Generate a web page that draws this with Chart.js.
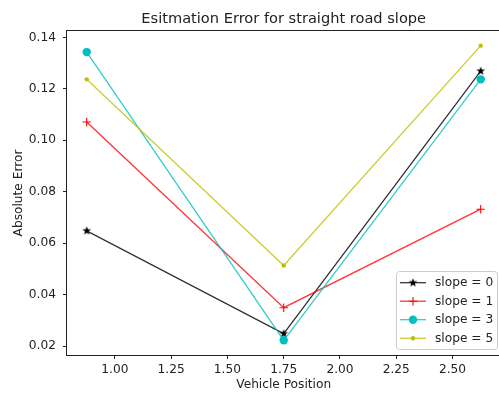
<!DOCTYPE html>
<html>
<head>
<meta charset="utf-8">
<script src="https://cdn.jsdelivr.net/npm/chart.js@4/dist/chart.umd.min.js"></script>
<style>
  html, body { margin: 0; padding: 0; background: #fff; overflow: hidden; }
  #wrap { width: 506px; height: 394px; }
</style>
</head>
<body>
<div id="wrap"><canvas id="errChart" width="506" height="394"></canvas></div>
<script>
// data
const X_POS = [0.875, 1.75, 2.625];
const SLOPE_0 = [0.0648, 0.0248, 0.1269];
const SLOPE_1 = [0.1071, 0.0349, 0.0732];
const SLOPE_3 = [0.1343, 0.0222, 0.1237];
const SLOPE_5 = [0.1237, 0.0513, 0.1368];
const SERIES_LABELS = ["slope = 0", "slope = 1", "slope = 3", "slope = 5"];
const X_TICKS = [1.00, 1.25, 1.50, 1.75, 2.00, 2.25, 2.50];
const Y_TICKS = [0.02, 0.04, 0.06, 0.08, 0.10, 0.12, 0.14];

const FONT = "'DejaVu Sans', sans-serif";
const TXT = '#222';
const FS = 12.2;

// filled five point star, like matplotlib's '*'
function makeStar(r, color) {
  const c = document.createElement('canvas');
  const s = Math.ceil(r * 2 + 2);
  c.width = s; c.height = s;
  const g = c.getContext('2d');
  g.fillStyle = color;
  g.beginPath();
  for (let i = 0; i < 10; i++) {
    const rad = i % 2 === 0 ? r : r * 0.42;
    const a = -Math.PI / 2 + i * Math.PI / 5;
    const px = s / 2 + rad * Math.cos(a);
    const py = s / 2 + rad * Math.sin(a);
    if (i === 0) g.moveTo(px, py); else g.lineTo(px, py);
  }
  g.closePath();
  g.fill();
  return c;
}

const styles = [
  { line: 'rgba(0,0,0,0.8)', mark: '#000000', point: makeStar(4.6, '#000'), radius: 4.6, bw: 1 },
  { line: 'rgba(255,0,0,0.8)', mark: '#ff0000', point: 'cross', radius: 4.2, bw: 1.1 },
  { line: 'rgba(0,191,191,0.8)', mark: '#00bfbf', point: 'circle', radius: 4.2, bw: 0 },
  { line: 'rgba(191,191,0,0.8)', mark: '#bfbf00', point: 'circle', radius: 2.2, bw: 0 }
];
const values = [SLOPE_0, SLOPE_1, SLOPE_3, SLOPE_5];

const datasets = values.map((vals, i) => ({
  label: SERIES_LABELS[i],
  data: X_POS.map((x, j) => ({ x: x, y: vals[j] })),
  borderColor: styles[i].line,
  borderWidth: 1.3,
  pointStyle: styles[i].point,
  pointRadius: styles[i].radius,
  pointBackgroundColor: styles[i].mark,
  pointBorderColor: styles[i].mark,
  pointBorderWidth: styles[i].bw,
  tension: 0,
  fill: false,
  order: values.length - 1 - i
}));

// title, frame and legend drawn by hand
const decor = {
  id: 'decor',
  afterDatasetsDraw(chart) {
    const ctx = chart.ctx;
    const a = chart.chartArea;
    ctx.save();

    ctx.strokeStyle = '#222';
    ctx.lineWidth = 1;
    ctx.strokeRect(Math.round(a.left) - 0.5, Math.round(a.top) - 0.5,
      Math.round(a.right - a.left) + 1, Math.round(a.bottom - a.top) + 1);

    ctx.fillStyle = TXT;
    ctx.font = '14.6px ' + FONT;
    ctx.textAlign = 'center';
    ctx.textBaseline = 'alphabetic';
    ctx.fillText('Esitmation Error for straight road slope', (a.left + a.right) / 2, 22.5);

    // legend
    const bx = 396.5, by = 271.5, bw = 101, bh = 78;
    ctx.beginPath();
    ctx.roundRect(bx, by, bw, bh, 3);
    ctx.fillStyle = 'rgba(255,255,255,0.8)';
    ctx.fill();
    ctx.strokeStyle = '#cccccc';
    ctx.stroke();

    const rows = [282.7, 301.2, 319.7, 338.3];
    styles.forEach((s, i) => {
      const y = rows[i];
      ctx.strokeStyle = s.line;
      ctx.lineWidth = 1.3;
      ctx.beginPath();
      ctx.moveTo(400, y);
      ctx.lineTo(426, y);
      ctx.stroke();
      ctx.fillStyle = s.mark;
      ctx.strokeStyle = s.mark;
      ctx.lineWidth = s.bw;
      Chart.helpers.drawPoint(ctx, { pointStyle: s.point, radius: s.radius, rotation: 0, borderWidth: s.bw }, 413, y);
      ctx.fillStyle = TXT;
      ctx.font = FS + 'px ' + FONT;
      ctx.textAlign = 'left';
      ctx.textBaseline = 'middle';
      ctx.fillText(SERIES_LABELS[i], 435, y + 0.5);
    });
    ctx.restore();
  }
};

const ctx = document.getElementById('errChart').getContext('2d');
new Chart(ctx, {
  type: 'line',
  data: { datasets: datasets },
  plugins: [decor],
  options: {
    responsive: false,
    animation: false,
    layout: { padding: { top: 31, right: 1, left: 0, bottom: 0 } },
    scales: {
      x: {
        type: 'linear',
        min: 0.7875,
        max: 2.7125,
        afterBuildTicks: (scale) => { scale.ticks = X_TICKS.map(v => ({ value: v })); },
        afterFit: (scale) => { scale.height = 39; },
        grid: { display: true, drawOnChartArea: false, drawTicks: true, tickLength: 4, color: '#222' },
        border: { display: false },
        ticks: {
          color: TXT,
          padding: 4,
          maxRotation: 0,
          font: { family: FONT, size: FS },
          callback: (v) => Number(v).toFixed(2)
        },
        title: {
          display: true,
          text: 'Vehicle Position',
          color: TXT,
          font: { family: FONT, size: FS },
          padding: { top: 0, bottom: 1.7 }
        }
      },
      y: {
        type: 'linear',
        min: 0.0165,
        max: 0.1425,
        afterBuildTicks: (scale) => { scale.ticks = Y_TICKS.map(v => ({ value: v })); },
        afterFit: (scale) => { scale.width = 67; },
        grid: { display: true, drawOnChartArea: false, drawTicks: true, tickLength: 4, color: '#222' },
        border: { display: false },
        ticks: {
          color: TXT,
          padding: 7,
          font: { family: FONT, size: FS },
          callback: (v) => Number(v).toFixed(2)
        },
        title: {
          display: true,
          text: 'Absolute Error',
          color: TXT,
          font: { family: FONT, size: FS },
          padding: { top: 11.7, bottom: 0 }
        }
      }
    },
    plugins: {
      legend: { display: false },
      tooltip: { enabled: false }
    }
  }
});
</script>
</body>
</html>
